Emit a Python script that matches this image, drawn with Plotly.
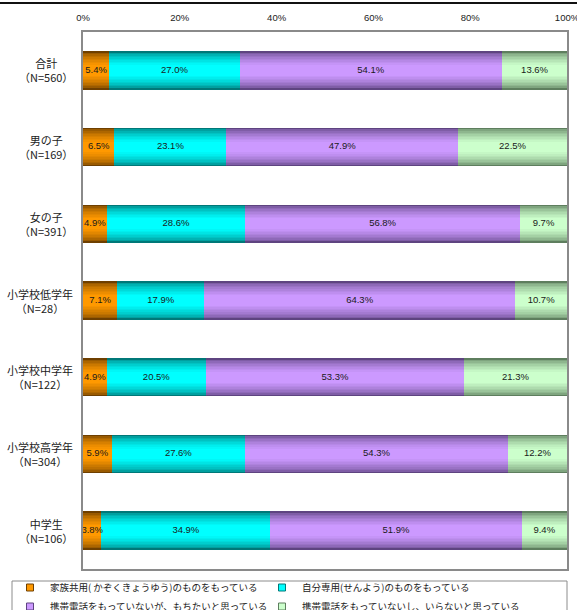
import plotly.graph_objects as go

# ---------------- data ----------------
categories = ['合計', '男の子', '女の子', '小学校低学年', '小学校中学年', '小学校高学年', '中学生']
n_labels = ['N=560', 'N=169', 'N=391', 'N=28', 'N=122', 'N=304', 'N=106']
series_names = [
    '家族共用( かぞくきょうゆう)のものをもっている',
    '自分専用(せんよう)のものをもっている',
    '携帯電話をもっていないが、もちたいと思っている',
    '携帯電話をもっていないし、いらないと思っている',
]

family_shared = [5.4, 6.5, 4.9, 7.1, 4.9, 5.9, 3.8]
own_phone = [27.0, 23.1, 28.6, 17.9, 20.5, 27.6, 34.9]
want_phone = [54.1, 47.9, 56.8, 64.3, 53.3, 54.3, 51.9]
no_need = [13.6, 22.5, 9.7, 10.7, 21.3, 12.2, 9.4]
tick_values = [0, 20, 40, 60, 80, 100]
tick_labels = ['0%', '20%', '40%', '60%', '80%', '100%']

series = [family_shared, own_phone, want_phone, no_need]

# ---------------- style ----------------
bright = ['#FF9900', '#00FFFF', '#CC99FF', '#CCFFCC']
dark = ['#6E3F00', '#007878', '#5E4480', '#5E7E5E']
legend_ref = ['legend', 'legend2', 'legend', 'legend2']
FONT = 'Liberation Sans, Arial, Noto Sans CJK JP, sans-serif'
JFONT = 'Noto Sans CJK JP, Liberation Sans, sans-serif'

W, H = 577, 610
ML, MR, MT, MB = 83, 10, 32, 41
PW = W - ML - MR
PH = H - MT - MB


def hex2rgb(h):
    h = h.lstrip('#')
    return [int(h[i:i + 2], 16) for i in (0, 2, 4)]


def mix(c1, c2, t):
    a, b = hex2rgb(c1), hex2rgb(c2)
    return 'rgb(%d,%d,%d)' % tuple(round(a[i] + (b[i] - a[i]) * t) for i in range(3))


fig = go.Figure()

# cumulative bases
bases = []
cum = [0.0] * len(categories)
for vals in series:
    bases.append(list(cum))
    cum = [c + v for c, v in zip(cum, vals)]

BAR_W = 0.5
N_LAYERS = 10
for si, vals in enumerate(series):
    for k in range(N_LAYERS):
        f = k / (N_LAYERS - 1)
        w = BAR_W * (1 - 0.72 * f)
        t = f ** 0.55
        fig.add_trace(go.Bar(
            y=categories, x=vals, base=bases[si], orientation='h',
            width=w, marker=dict(color=mix(dark[si], bright[si], t), line=dict(width=0)),
            showlegend=False, hoverinfo='skip', textposition='none'))

# value labels
for si, vals in enumerate(series):
    fig.add_trace(go.Scatter(
        y=categories, x=[b + v / 2 for b, v in zip(bases[si], vals)],
        mode='text', text=['%.1f%%' % v for v in vals],
        textfont=dict(size=9.5, color='#1a1a1a', family=FONT),
        showlegend=False, hoverinfo='skip', cliponaxis=False))

# legend entries (two columns = two legends)
for si, name in enumerate(series_names):
    fig.add_trace(go.Scatter(
        x=[None], y=[None], mode='markers', name=name, legend=legend_ref[si],
        marker=dict(symbol='square', size=7, color=bright[si],
                    line=dict(color=dark[si], width=1))))

annotations = []
for cat, n in zip(categories, n_labels):
    annotations.append(dict(
        x=-0.016, xref='paper', y=cat, yref='y', xanchor='right', yanchor='middle',
        text=f'{cat}<br>（{n}）', align='center', showarrow=False,
        font=dict(size=11, color='#222', family=JFONT)))

shapes = [
    dict(type='line', xref='paper', yref='paper',
         x0=-ML / PW, x1=(W - ML) / PW, y0=1 + (MT - 3) / PH, y1=1 + (MT - 3) / PH,
         line=dict(color='#111', width=2)),
    dict(type='rect', xref='paper', yref='paper',
         x0=(12 - ML) / PW, x1=(567 - ML) / PW,
         y0=-(630 - (H - MB)) / PH, y1=-(581 - (H - MB)) / PH,
         line=dict(color='#8c8c8c', width=1), fillcolor='rgba(0,0,0,0)'),
]

legend_common = dict(orientation='v', xref='container', yref='container',
                     xanchor='left', y=1 - 573 / H, yanchor='top', itemwidth=30,
                     font=dict(size=9.5, color='#222', family=JFONT),
                     bgcolor='rgba(0,0,0,0)', borderwidth=0, tracegroupgap=0)

fig.update_layout(
    width=W, height=H, barmode='overlay', bargap=0,
    margin=dict(l=ML, r=MR, t=MT, b=MB, autoexpand=False),
    paper_bgcolor='white', plot_bgcolor='white',
    font=dict(family=FONT, size=9, color='#222'),
    xaxis=dict(range=[0, 100], side='top', tickmode='array', tickvals=tick_values,
               ticktext=tick_labels, ticklabelstandoff=5, ticklabeloverflow='allow',
               showgrid=False, zeroline=False, ticks='',
               showline=True, mirror=True, linecolor='#8a8a8a', linewidth=2,
               tickfont=dict(size=9.5, color='#222')),
    yaxis=dict(type='category', categoryorder='array', categoryarray=categories,
               range=[6.5, -0.5], showticklabels=False, showgrid=False, zeroline=False,
               showline=True, mirror=True, linecolor='#8a8a8a', linewidth=2, ticks=''),
    legend=dict(x=10 / W, **legend_common),
    legend2=dict(x=262 / W, **legend_common),
    annotations=annotations, shapes=shapes,
)

fig.write_html('out.html', config={'displayModeBar': False},
               post_script="document.body.style.margin='0';")
